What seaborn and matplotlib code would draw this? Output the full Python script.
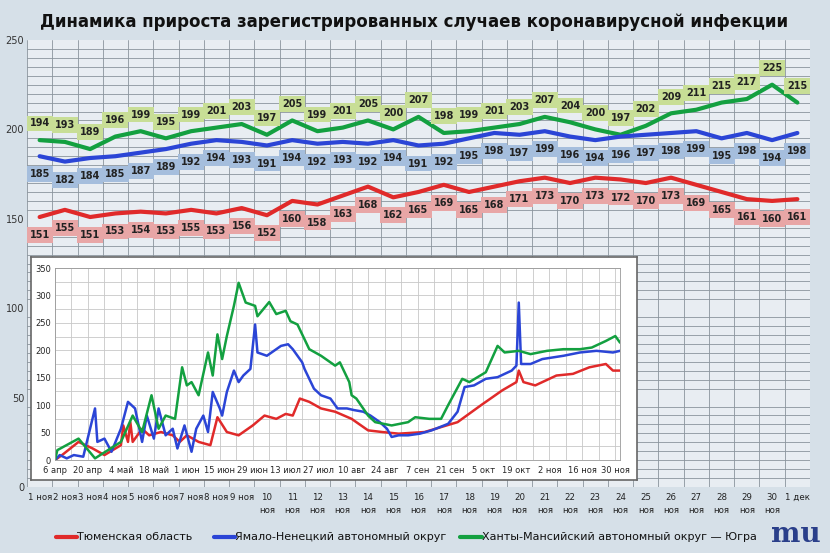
import numpy as np
import pandas as pd
import matplotlib
matplotlib.use('Agg')
import matplotlib.pyplot as plt
import seaborn as sns

# Main chart: 1 Nov - 1 Dec
days_main = [f'{d} ноя' for d in range(1, 31)] + ['1 дек']
green_main = [194, 193, 189, 196, 199, 195, 199, 201, 203, 197, 205, 199, 201, 205, 200, 207,
              198, 199, 201, 203, 207, 204, 200, 197, 202, 209, 211, 215, 217, 225, 215]
blue_main = [185, 182, 184, 185, 187, 189, 192, 194, 193, 191, 194, 192, 193, 192, 194, 191,
             192, 195, 198, 197, 199, 196, 194, 196, 197, 198, 199, 195, 198, 194, 198]
red_main = [151, 155, 151, 153, 154, 153, 155, 153, 156, 152, 160, 158, 163, 168, 162, 165,
            169, 165, 168, 171, 173, 170, 173, 172, 170, 173, 169, 165, 161, 160, 161]

# Inset: days since 6 Apr
green_d = [0, 1, 10, 17, 28, 33, 37, 41, 44, 47, 51, 54, 56, 58, 61, 65, 67, 69, 71, 73, 76, 78, 81, 85, 86,
           91, 94, 98, 100, 103, 108, 113, 119, 121, 125, 126, 128, 133, 136, 143, 150, 153, 159, 164, 167,
           173, 176, 183, 188, 191, 197, 202, 209, 216, 223, 228, 234, 238, 240]
green_v = [0, 18, 39, 3, 33, 81, 51, 118, 57, 81, 75, 169, 136, 142, 118, 196, 154, 229, 184, 226, 281, 323, 287, 281, 262,
           288, 266, 272, 253, 247, 202, 190, 172, 178, 142, 118, 112, 81, 69, 63, 69, 78, 75, 75, 100,
           148, 142, 160, 208, 196, 199, 193, 199, 202, 202, 205, 217, 226, 214]
blue_d = [0, 2, 5, 8, 12, 17, 18, 21, 24, 28, 31, 34, 37, 38, 39, 42, 44, 47, 50, 52, 55, 58, 60, 63, 65, 67,
          70, 71, 73, 76, 78, 80, 83, 85, 86, 90, 92, 96, 99, 101, 105, 106, 110, 113, 117, 120, 124, 127,
          131, 134, 138, 141, 143, 146, 150, 155, 160, 167, 171, 174, 178, 183, 188, 194, 196, 197, 198,
          202, 207, 216, 223, 230, 237, 240]
blue_v = [0, 9, 3, 9, 6, 94, 33, 39, 15, 57, 106, 94, 33, 57, 81, 39, 94, 45, 57, 21, 63, 15, 57, 81, 51, 124,
          94, 81, 124, 163, 142, 154, 166, 247, 196, 190, 196, 208, 211, 202, 178, 166, 130, 118, 112, 94, 94, 91,
          88, 81, 69, 57, 42, 45, 45, 48, 54, 66, 88, 133, 136, 148, 151, 163, 172, 287, 175,
          175, 184, 190, 196, 199, 196, 199]
red_d = [0, 3, 10, 16, 21, 28, 29, 31, 32, 33, 37, 40, 45, 50, 53, 56, 61, 66, 69, 73, 78, 84, 89, 94, 98, 101,
         104, 108, 113, 119, 126, 133, 139, 146, 157, 164, 171, 181, 190, 196, 197, 199, 204, 213, 220, 227,
         234, 237, 240]
red_v = [0, 9, 33, 21, 9, 27, 63, 33, 69, 33, 57, 45, 51, 45, 33, 45, 33, 27, 78, 51, 45, 63, 81, 75, 84, 81,
         112, 106, 94, 88, 75, 54, 51, 48, 51, 60, 69, 100, 127, 142, 163, 142, 136, 154, 157, 169,
         175, 163, 163]
inset_ticks = ['6 апр', '20 апр', '4 май', '18 май', '1 июн', '15 июн', '29 июн', '13 июл', '27 июл',
               '10 авг', '24 авг', '7 сен', '21 сен', '5 окт', '19 окт', '2 ноя', '16 ноя', '30 ноя']

RED, BLUE, GREEN = '#e02a2a', '#2b45d6', '#13a040'

sns.set_theme(style='white')
plt.rcParams['font.family'] = ['DejaVu Sans']

fig = plt.figure(figsize=(8.3, 5.53), dpi=100)
fig.patch.set_facecolor('#d6e0e8')
W, H = 830, 553

def rect(l, t, r, b):
    return [l / W, 1 - b / H, (r - l) / W, (b - t) / H]

ax = fig.add_axes(rect(27, 40, 810, 487))
ax.set_facecolor((1, 1, 1, 0.45))
x = np.arange(len(days_main))
df = pd.DataFrame({'x': x, 'green': green_main, 'blue': blue_main, 'red': red_main})
for col, c in [('green', GREEN), ('blue', BLUE), ('red', RED)]:
    sns.lineplot(data=df, x='x', y=col, ax=ax, color=c, linewidth=3)

ax.set_xlim(-0.5, len(x) - 0.5)
ax.set_ylim(0, 250)
ax.set_yticks(range(0, 251, 50))
ax.set_yticks(range(0, 251, 5), minor=True)
ax.set_xticks(np.arange(-0.5, len(x), 1), minor=True)
ax.grid(True, which='minor', color='#8a949c', linewidth=0.6)
ax.set_xticks(x)
labels = [d if (i < 9 or i == 30) else d.replace(' ', '\n') for i, d in enumerate(days_main)]
ax.set_xticklabels(labels, fontsize=6.2, color='#222', linespacing=1.6)
ax.tick_params(axis='y', labelsize=7, colors='#333', pad=2, length=0)
ax.tick_params(axis='x', length=0, pad=4)
ax.set_xlabel('')
ax.set_ylabel('')
for s in ax.spines.values():
    s.set_visible(False)

for vals, off, fc in [(green_main, 12, '#c8de96'), (blue_main, -13, '#a5bedd'), (red_main, -13, '#e8a6a6')]:
    for i, v in enumerate(vals):
        ax.annotate(str(v), (i, v), xytext=(0, off), textcoords='offset points', ha='center', va='center',
                    fontsize=7, fontweight='bold', color='#222',
                    bbox=dict(boxstyle='square,pad=0.3', fc=fc, ec='none'))

fig.text(40 / W, 1 - 22 / H, 'Динамика прироста зарегистрированных случаев коронавирусной инфекции',
         fontsize=12, fontweight='bold', color='#111', va='center')

# inset box
box = fig.add_axes(rect(31, 257, 637, 480))
box.set_facecolor('white')
box.set_xticks([]); box.set_yticks([])
for s in box.spines.values():
    s.set_color('#666'); s.set_linewidth(1.2)

ins = fig.add_axes(rect(55, 268, 620, 460))
ins.set_facecolor('white')
for d, v, c in [(red_d, red_v, RED), (blue_d, blue_v, BLUE), (green_d, green_v, GREEN)]:
    sns.lineplot(x=d, y=v, ax=ins, color=c, linewidth=1.8)
ins.set_xlim(0, 240)
ins.set_ylim(0, 350)
ins.set_yticks(range(0, 351, 50))
ins.set_yticks(range(0, 351, 25), minor=True)
ins.set_xticks(range(0, 240, 14))
ins.set_xticks(range(0, 240, 7), minor=True)
ins.set_xticklabels(inset_ticks, fontsize=6)
ins.tick_params(axis='y', labelsize=6, length=0, pad=3)
ins.tick_params(axis='x', length=0, pad=4)
ins.grid(True, which='both', color='#c8c8c8', linewidth=0.6)
for s in ins.spines.values():
    s.set_color('#999'); s.set_linewidth(0.6)

# legend
for (x0, x1, c, txt) in [(56, 77, RED, 'Тюменская область'),
                         (214, 235, BLUE, 'Ямало-Ненецкий автономный округ'),
                         (460, 482, GREEN, 'Ханты-Мансийский автономный округ — Югра')]:
    fig.lines.append(plt.Line2D([x0 / W, x1 / W], [1 - 537 / H] * 2, color=c, linewidth=3,
                                transform=fig.transFigure))
    fig.text(x1 / W, 1 - 537 / H, txt, fontsize=8, va='center', color='#111')

fig.text(796 / W, 1 - 535 / H, 'mu', fontsize=20, fontweight='bold', color='#2a3f8a',
         ha='center', va='center', family='serif')

fig.savefig('out.png', dpi=100)
